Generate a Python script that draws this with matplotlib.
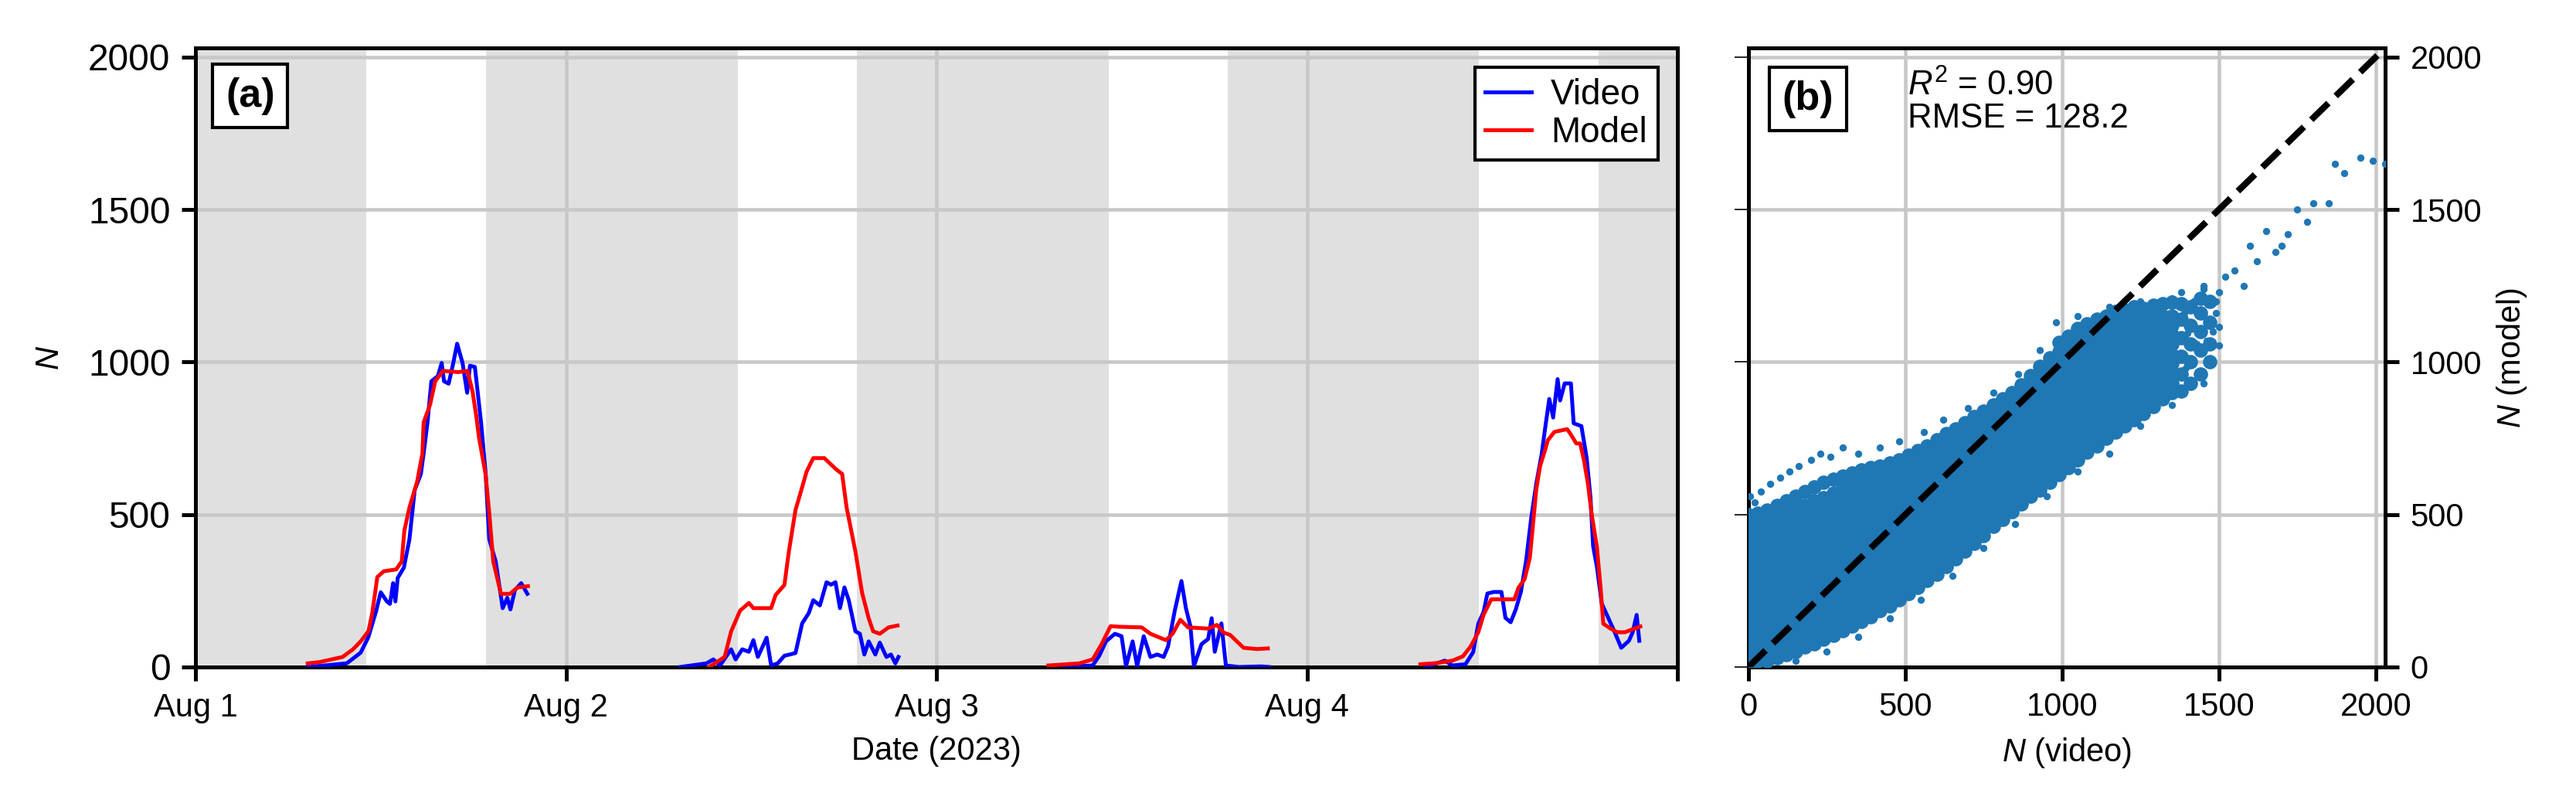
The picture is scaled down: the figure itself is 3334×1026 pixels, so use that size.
import numpy as np
import matplotlib
matplotlib.use("Agg")
import matplotlib.pyplot as plt
import matplotlib.dates as mdates

plt.rcParams['font.family'] = ['Liberation Sans', 'DejaVu Sans']
plt.rcParams['mathtext.fontset'] = 'custom'
plt.rcParams['mathtext.rm'] = 'Liberation Sans'
plt.rcParams['mathtext.it'] = 'Liberation Sans:italic'

# --- time series (hours since 2023-08-01 00:00, nan = gap between nights) ---
video_hours = [7.3, 9.8, 10.7, 11.2, 11.7, 12.0, 12.4, 12.6, 12.8, 12.95, 13.1, 13.5, 13.86, 14.2, 14.6, 14.78,
               15.03, 15.28, 15.7, 15.95, 16.1, 16.4, 16.7, 16.95, 17.3, 17.6, 17.78, 18.1, 18.5, 18.8, 19.03,
               19.45, 19.9, 20.2, 20.4, 20.7, 21.1, 21.5, np.nan,
               31.4, 33.1, 33.55, 33.98, 34.7, 34.99, 35.42, 35.85, 36.14, 36.43, 37.0, 37.29, 37.72, 38.15,
               38.58, 38.87, 39.3, 39.73, 40.02, 40.45, 40.88, 41.17, 41.46, 41.75, 42.04, 42.32, 42.75, 43.04,
               43.33, 43.61, 44.04, 44.33, 44.76, 45.05, 45.34, 45.54, np.nan,
               56.1, 58.12, 58.55, 58.98, 59.56, 59.99, 60.28, 60.71, 61.0, 61.43, 61.86, 62.3, 62.72, 63.0,
               63.44, 63.87, 64.16, 64.45, 64.68, 65.17, 65.6, 65.83, 66.03, 66.46, 66.75, 67.6, 69.04, 69.55,
               np.nan,
               79.69, 80.93, 81.43, 82.27, 82.77, 83.1, 83.44, 83.69, 84.1, 84.6, 84.86, 85.2, 85.53, 85.86,
               86.2, 86.53, 86.86, 87.2, 87.45, 87.7, 87.95, 88.24, 88.4, 88.7, 89.1, 89.28, 89.78, 90.12,
               90.37, 90.54, 90.78, 91.1, 91.52, 91.94, 92.36, 92.86, 93.1, 93.36, 93.53]
video_n = [0, 12, 47, 98, 183, 245, 215, 207, 275, 215, 292, 326, 419, 580, 633, 700,
           802, 937, 954, 997, 937, 929, 997, 1060, 997, 899, 988, 984, 802, 633, 419,
           346, 193, 227, 189, 253, 275, 240, np.nan,
           0, 12, 25, 5, 58, 25, 58, 50, 88, 33, 96, 5, 12, 37,
           42, 46, 143, 177, 219, 202, 278, 270, 278, 193, 261, 219, 117, 109,
           41, 84, 41, 80, 33, 41, 12, 33, np.nan,
           0, 5, 37, 84, 109, 101, 3, 84, 3, 101, 33, 41, 33, 67,
           185, 282, 193, 134, 3, 75, 92, 160, 50, 143, 5, 0, 2, 0,
           np.nan,
           0, 21, 5, 9, 49, 142, 180, 241, 246, 246, 161, 147, 189, 246,
           349, 489, 602, 696, 790, 879, 818, 944, 874, 930, 930, 799, 790, 686,
           555, 396, 330, 208, 161, 114, 63, 86, 114, 171, 86]

model_hours = [7.27, 8.02, 9.53, 10.2, 10.7, 11.2, 11.45, 11.78, 12.2, 13.0, 13.36, 13.53, 13.86, 14.36,
               14.7, 14.78, 15.2, 15.53, 16.03, 17.03, 17.62, 17.95, 18.2, 18.37, 18.79, 19.03, 19.29,
               19.79, 20.37, 20.87, 21.54, np.nan,
               33.27, 34.28, 34.7, 35.28, 35.85, 36.14, 37.29, 37.58, 38.15, 38.44, 38.87, 39.16, 39.59,
               40.02, 40.74, 41.46, 41.89, 42.18, 42.75, 43.18, 43.61, 43.9, 44.33, 44.9, 45.48, np.nan,
               55.25, 57.26, 58.12, 58.7, 59.28, 59.85, 61.29, 61.86, 62.87, 63.3, 63.8, 64.3, 65.59,
               66.17, 66.6, 67.03, 67.46, 67.9, 68.76, 69.47, np.nan,
               79.35, 80.43, 81.43, 82.1, 82.6, 83.1, 83.44, 83.94, 85.44, 85.7, 86.1, 86.44, 86.6, 86.86,
               87.1, 87.45, 87.6, 88.03, 88.86, 89.1, 89.45, 89.7, 89.95, 90.2, 90.45, 90.78, 91.03, 91.2,
               91.61, 92.1, 92.6, 93.1, 93.6]
model_n = [12, 16, 33, 58, 84, 117, 177, 295, 314, 320, 346, 447, 523, 608,
           700, 802, 861, 937, 971, 967, 971, 903, 819, 751, 633, 506, 346,
           240, 240, 261, 265, np.nan,
           0, 33, 117, 185, 210, 193, 193, 236, 269, 379, 515, 565, 641,
           685, 685, 650, 633, 523, 379, 244, 160, 117, 109, 130, 136, np.nan,
           5, 12, 25, 75, 134, 132, 130, 109, 88, 109, 155, 130, 126,
           138, 113, 105, 84, 63, 59, 61, np.nan,
           9, 13, 21, 35, 67, 114, 171, 222, 222, 260, 288, 358, 443, 583,
           658, 715, 743, 771, 780, 762, 733, 733, 677, 602, 499, 396, 255, 142,
           128, 114, 114, 124, 133]

# unshaded daylight windows (hours since Aug 1)
day_start_hours = [11.06, 35.12, 59.15, 83.12]
day_end_hours = [18.82, 42.84, 66.87, 90.88]

# --- scatter (b): dense core, N video per column with the N model values in it ---
scatter_video_cols = [0, 30, 60, 90, 120, 150, 180, 210, 240, 270, 300, 330, 360, 390, 420, 450, 480, 510,
                      540, 570, 600, 630, 660, 690, 720, 750, 780, 810, 840, 870, 900, 930, 960, 990, 1020,
                      1050, 1080, 1110, 1140, 1170, 1200, 1230, 1260, 1290, 1320, 1350, 1380, 1410, 1440,
                      1470]
scatter_model_cols = [
    [10, 30, 65, 95, 130, 160, 190, 225, 255, 290, 320, 350, 385, 415, 450, 480, 500],
    [20, 50, 80, 115, 145, 175, 210, 240, 270, 305, 335, 365, 400, 430, 460, 490, 505],
    [20, 40, 75, 105, 135, 170, 200, 230, 265, 295, 325, 360, 390, 420, 455, 485, 515],
    [30, 55, 90, 120, 150, 185, 215, 245, 280, 310, 340, 375, 405, 435, 470, 500, 530],
    [40, 60, 95, 125, 155, 190, 220, 250, 285, 315, 345, 380, 410, 440, 475, 505, 545],
    [50, 75, 110, 140, 170, 205, 235, 265, 300, 330, 360, 395, 425, 455, 490, 520, 560],
    [65, 85, 120, 150, 180, 215, 245, 275, 310, 340, 370, 405, 435, 465, 500, 530, 575],
    [75, 100, 135, 165, 195, 230, 260, 290, 325, 355, 385, 420, 450, 480, 515, 545, 590],
    [90, 110, 145, 175, 205, 240, 270, 300, 335, 365, 395, 430, 460, 490, 525, 555, 605],
    [105, 125, 160, 190, 220, 255, 285, 315, 350, 380, 410, 445, 475, 505, 540, 570, 615],
    [120, 140, 175, 205, 235, 270, 300, 330, 365, 395, 425, 460, 490, 520, 555, 585, 625],
    [135, 160, 195, 225, 255, 290, 320, 350, 385, 415, 445, 480, 510, 540, 575, 605, 635],
    [150, 175, 210, 240, 270, 305, 335, 365, 400, 430, 460, 495, 525, 555, 590, 620, 645],
    [165, 190, 225, 255, 285, 320, 350, 380, 415, 445, 475, 510, 540, 570, 605, 635, 655],
    [185, 210, 245, 275, 305, 340, 370, 400, 435, 465, 495, 530, 560, 590, 625, 660],
    [200, 225, 260, 290, 320, 355, 385, 415, 450, 480, 510, 545, 575, 605, 640, 670],
    [220, 245, 280, 310, 340, 375, 405, 435, 470, 500, 530, 565, 595, 625, 660, 680],
    [240, 265, 300, 330, 360, 395, 425, 455, 490, 520, 550, 585, 615, 645, 680, 695],
    [260, 285, 320, 350, 380, 415, 445, 475, 510, 540, 570, 605, 635, 665, 700, 710],
    [285, 310, 345, 375, 405, 440, 470, 500, 535, 565, 595, 630, 660, 690, 725],
    [305, 330, 365, 395, 425, 460, 490, 520, 555, 585, 615, 650, 680, 710, 745],
    [330, 355, 390, 420, 450, 485, 515, 545, 580, 610, 640, 675, 705, 735, 765],
    [355, 380, 415, 445, 475, 510, 540, 570, 605, 635, 665, 700, 730, 760, 780],
    [380, 405, 440, 470, 500, 535, 565, 595, 630, 660, 690, 725, 755, 785, 800],
    [405, 430, 465, 495, 525, 560, 590, 620, 655, 685, 715, 750, 780, 810, 820],
    [430, 455, 490, 520, 550, 585, 615, 645, 680, 710, 740, 775, 805, 835, 840],
    [460, 485, 520, 550, 580, 615, 645, 675, 710, 740, 770, 805, 835, 860],
    [485, 510, 545, 575, 605, 640, 670, 700, 735, 765, 795, 830, 860, 880],
    [510, 535, 570, 600, 630, 665, 695, 725, 760, 790, 820, 855, 885, 900],
    [535, 560, 595, 625, 655, 690, 720, 750, 785, 815, 845, 880, 910, 925],
    [560, 585, 620, 650, 680, 715, 745, 775, 810, 840, 870, 905, 935, 955],
    [580, 605, 640, 670, 700, 735, 765, 795, 830, 860, 890, 925, 955, 985],
    [605, 630, 665, 695, 725, 760, 790, 820, 855, 885, 915, 950, 980, 1015],
    [630, 655, 690, 720, 750, 785, 815, 845, 880, 910, 940, 975, 1005, 1035, 1065],
    [655, 680, 715, 745, 775, 810, 840, 870, 905, 935, 965, 1000, 1030, 1060, 1085],
    [680, 705, 740, 770, 800, 835, 865, 895, 930, 960, 990, 1025, 1055, 1085, 1110],
    [705, 730, 765, 795, 825, 860, 890, 920, 955, 985, 1015, 1050, 1080, 1110, 1125],
    [725, 750, 785, 815, 845, 880, 910, 940, 975, 1005, 1035, 1070, 1100, 1130, 1140],
    [750, 775, 810, 840, 870, 905, 935, 965, 1000, 1030, 1060, 1095, 1125, 1150],
    [770, 795, 830, 860, 890, 925, 955, 985, 1020, 1050, 1080, 1115, 1145, 1165],
    [790, 815, 850, 880, 910, 945, 975, 1005, 1040, 1070, 1100, 1135, 1170],
    [810, 835, 870, 900, 930, 965, 995, 1025, 1060, 1090, 1120, 1150, 1180],
    [830, 855, 890, 920, 950, 985, 1015, 1045, 1080, 1110, 1140, 1175],
    [855, 875, 910, 940, 970, 1005, 1035, 1065, 1100, 1130, 1160, 1185],
    [880, 905, 935, 965, 1000, 1030, 1060, 1090, 1120, 1150, 1190],
    [900, 930, 965, 995, 1025, 1060, 1090, 1120, 1150, 1195],
    [905, 960, 1020, 1080, 1140, 1190],
    [930, 1000, 1060, 1120, 1180],
    [960, 1040, 1100, 1160, 1210],
    [1000, 1060, 1130, 1200],
]
# loose points around the edge of the cloud and the sparse high end
edge_video = [5, 20, 40, 70, 100, 130, 160, 200, 230, 260, 300, 350, 420, 480, 560, 620, 700, 780, 860,
              930, 980, 1050, 1150, 1250, 1350, 1450, 1490,
              150, 250, 350, 450, 550, 650, 750, 850, 950, 1050, 1150, 1250, 1350, 1450,
              1380, 1390, 1395, 1400, 1420, 1430, 1450, 1460, 1475, 1480, 1490, 1500, 1500, 1500,
              1520, 1550, 1580, 1600, 1620, 1650, 1680, 1700, 1720, 1750, 1780, 1800, 1850, 1870,
              1900, 1950, 1990, 2030]
edge_model = [560, 540, 575, 600, 620, 640, 660, 680, 700, 690, 720, 700, 720, 740, 770, 810, 850, 900, 960,
              1040, 1130, 1150, 1180, 1200, 1210, 1250, 1200,
              20, 50, 100, 160, 220, 300, 390, 470, 560, 640, 700, 790, 860, 930,
              1230, 1160, 980, 1095, 1200, 1060, 1240, 1070, 1190, 1100, 1160, 1055, 1115, 1230,
              1280, 1300, 1250, 1380, 1330, 1430, 1360, 1380, 1420, 1500, 1460, 1520, 1520, 1650,
              1620, 1670, 1660, 1650]

r2_text = r"$R^2$ = 0.90"
rmse_text = "RMSE = 128.2"

# -----------------------------------------------------------------------
start = mdates.date2num(np.datetime64('2023-08-01T00:00'))
t_video = start + np.array(video_hours) / 24.0
t_model = start + np.array(model_hours) / 24.0

fig = plt.figure(figsize=(3334 / 300, 1026 / 300), dpi=300)
ax_a = fig.add_axes([253 / 3334, 1 - 863 / 1026, 1918 / 3334, 801 / 1026])
ax_b = fig.add_axes([2263 / 3334, 1 - 863 / 1026, 824 / 3334, 801 / 1026])

grid_kw = dict(color='#c8c8c8', lw=1.1)
spine_lw = 1.2
box_kw = dict(boxstyle='square,pad=0.32', fc='w', ec='k', lw=1.0)

# --- panel (a) ---
edges = [0] + [h for pair in zip(day_start_hours, day_end_hours) for h in pair] + [96]
for i in range(0, len(edges), 2):
    ax_a.axvspan(start + edges[i] / 24, start + edges[i + 1] / 24, color='#e0e0e0', lw=0, zorder=0)

ax_a.plot(t_video, video_n, color='b', lw=1.2, label='Video', zorder=3)
ax_a.plot(t_model, model_n, color='r', lw=1.2, label='Model', zorder=4)
ax_a.xaxis_date()
ax_a.set_xlim(start, start + 4)
ax_a.set_ylim(0, 2030)
ax_a.set_xticks(start + np.arange(5))
ax_a.set_xticklabels(['Aug 1', 'Aug 2', 'Aug 3', 'Aug 4', ''])
ax_a.set_yticks([0, 500, 1000, 1500, 2000])
ax_a.grid(True, **grid_kw)
ax_a.tick_params(axis='both', direction='out', length=4.3, width=1.2, labelsize=10)
ax_a.tick_params(axis='y', labelsize=11.5)
ax_a.set_xlabel('Date (2023)', fontsize=10)
ax_a.set_ylabel('$N$', fontsize=10, labelpad=7)
leg = ax_a.legend(loc='upper right', fontsize=11, fancybox=False, framealpha=1,
                  edgecolor='k', handlelength=1.3, handletextpad=0.55, labelspacing=0.1,
                  borderpad=0.3, borderaxespad=0.55)
leg.get_frame().set_linewidth(1.0)
ax_a.text(0.0203, 0.953, '(a)', transform=ax_a.transAxes, ha='left', va='top', fontsize=12.5,
          fontweight='bold', bbox=box_kw, zorder=6)

# --- panel (b) ---
sc_x = [v for v, col in zip(scatter_video_cols, scatter_model_cols) for _ in col]
sc_y = [m for col in scatter_model_cols for m in col]
ax_b.scatter(sc_x, sc_y, s=20, color='#1f77b4', lw=0, zorder=3)
ax_b.scatter(edge_video, edge_model, s=5, color='#1f77b4', lw=0, zorder=3)
ax_b.plot([0, 2030], [0, 2030], 'k--', lw=2, zorder=4)
ax_b.set_xlim(0, 2030)
ax_b.set_ylim(0, 2030)
ax_b.set_xticks([0, 500, 1000, 1500, 2000])
ax_b.set_yticks([0, 500, 1000, 1500, 2000])
ax_b.grid(True, **grid_kw)
ax_b.tick_params(axis='both', direction='out', length=4.3, width=1.2, labelsize=10)
ax_b.tick_params(axis='y', left=True, right=True, labelleft=False, labelright=True)
for t in ax_b.yaxis.get_major_ticks():
    t.tick1line.set_markeredgewidth(0.4)
ax_b.yaxis.set_label_position('right')
ax_b.set_xlabel('$N$ (video)', fontsize=10)
ax_b.set_ylabel('$N$ (model)', fontsize=10)
ax_b.text(0.25, 0.965, r2_text + '\n' + rmse_text, transform=ax_b.transAxes, ha='left', va='top',
          fontsize=10.5, linespacing=1.0, zorder=6)
ax_b.text(0.053, 0.948, '(b)', transform=ax_b.transAxes, ha='left', va='top', fontsize=12.5,
          fontweight='bold', bbox=box_kw, zorder=6)

for ax in (ax_a, ax_b):
    for s in ax.spines.values():
        s.set_linewidth(spine_lw)

fig.savefig('out.png', dpi=300)
